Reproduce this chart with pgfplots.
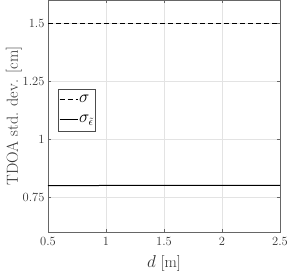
\documentclass[border=0pt]{standalone}
\usepackage{pgfplots}
\pgfplotsset{compat=1.18}
\begin{document}
\begin{tikzpicture}
\begin{axis}[
  scale only axis,
  width=232pt, height=232pt,
  xmin=0.5, xmax=2.5, ymin=0.6, ymax=1.6,
  xtick={0.5,1,1.5,2,2.5},
  ytick={0.75,1,1.25,1.5},
  xticklabels={0.5,1,1.5,2,2.5},
  yticklabels={0.75,1,1.25,1.5},
  tick align=inside,
  major tick length=3pt,
  grid=major,
  grid style={gray!22, line width=0.5pt},
  axis line style={black!60, line width=0.8pt},
  tick style={black!60},
  tick label style={font=\fontsize{12.5}{14}\selectfont, text=black!80},
  xticklabel style={yshift=-2pt},
  xlabel={$d$ [m]},
  ylabel={TDOA std. dev. [cm]},
  label style={font=\fontsize{16}{18}\selectfont, text=black!80},
  xlabel style={at={(axis description cs:0.5,-0.134)}, anchor=center},
  ylabel style={at={(axis description cs:-0.147,0.5)}, anchor=center},
  legend style={at={(0.042,0.618)}, anchor=north west, font=\fontsize{16}{18}\selectfont,
    draw=black!70, line width=0.6pt, inner xsep=1pt, inner ysep=5.5pt, row sep=9pt,
    legend cell align=left, nodes={inner sep=1pt}},
  legend image code/.code={\draw[#1] (0pt,0pt) -- (18pt,0pt);},
]
\addplot[black, line width=1pt, dash pattern=on 5pt off 3pt] coordinates {(0.5,1.5) (2.5,1.5)};
\addlegendentry{$\sigma$}
\addplot[black, line width=1pt] coordinates {(0.5,0.800) (1.0,0.8005) (1.5,0.801) (2.0,0.8005) (2.5,0.8005)};
\addlegendentry{$\sigma_{\tilde\epsilon}$}
\end{axis}
\pgfresetboundingbox
\path ([xshift=-48pt,yshift=-38pt]current axis.south west) rectangle ([xshift=8pt,yshift=0pt]current axis.north east);
\end{tikzpicture}
\end{document}
